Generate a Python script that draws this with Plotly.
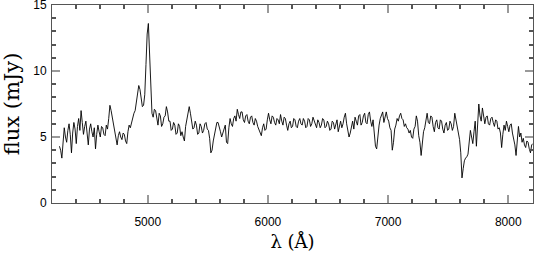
import plotly.graph_objects as go

wave_start = 4265
wave_step = 10

flux_4265 = [4.3, 4.0, 3.4, 4.9, 5.7, 5.0, 4.6, 5.5, 6.0, 5.2, 3.8, 5.3, 6.1, 5.6, 4.5, 5.8, 6.4, 5.5, 7.0, 6.1,
             5.2, 5.8, 6.2, 5.3, 4.4, 5.6, 6.0, 5.4, 5.0, 5.7, 4.1, 5.2, 5.9, 5.4, 5.0, 5.8, 5.7, 5.2, 5.1, 5.9]
flux_4665 = [5.6, 6.4, 7.4, 7.0, 6.5, 5.9, 5.4, 4.9, 4.4, 5.1, 5.4, 5.0, 4.8, 5.3, 5.2, 4.7, 4.5, 5.4, 5.9, 5.7,
             6.1, 6.5, 6.8, 7.0, 7.6, 8.3, 8.9, 8.6, 7.7, 7.3, 7.4, 8.2, 10.5, 12.8, 13.6, 11.5, 8.5, 6.8, 6.5, 7.1]
flux_5065 = [7.0, 6.2, 5.9, 6.8, 6.6, 5.8, 6.0, 6.5, 6.6, 7.3, 6.9, 6.2, 6.2, 5.5, 5.6, 6.1, 5.9, 5.2, 5.3, 6.0,
             5.8, 5.1, 5.4, 5.0, 4.7, 5.8, 6.4, 6.9, 7.3, 6.8, 6.3, 5.6, 5.7, 6.2, 5.9, 5.2, 5.3, 6.0, 5.8, 5.3]
flux_5465 = [5.5, 6.0, 6.1, 5.6, 5.5, 4.9, 3.8, 4.0, 4.7, 5.2, 5.6, 6.1, 6.1, 5.6, 5.4, 5.0, 5.3, 5.7, 5.9, 4.6,
             4.5, 5.7, 6.4, 6.0, 5.8, 6.4, 6.6, 6.2, 7.1, 6.7, 6.4, 6.9, 6.9, 6.3, 6.1, 6.6, 6.7, 6.2, 6.0, 6.5]
flux_5865 = [6.6, 6.1, 5.9, 6.4, 6.2, 5.8, 5.6, 5.3, 5.1, 5.7, 6.0, 5.5, 5.6, 6.3, 6.8, 6.3, 6.0, 6.6, 6.5, 6.1,
             5.9, 6.4, 6.3, 6.0, 6.7, 6.2, 5.9, 6.5, 6.4, 5.9, 5.5, 6.0, 6.2, 5.7, 5.8, 6.4, 6.3, 5.8, 5.7, 6.2]
flux_6265 = [6.4, 6.0, 5.9, 6.4, 6.2, 5.7, 5.8, 6.4, 6.3, 5.8, 6.0, 6.5, 6.2, 5.9, 5.7, 6.3, 6.1, 5.7, 5.9, 6.4,
             6.3, 5.7, 5.8, 6.2, 6.0, 5.5, 5.6, 6.2, 6.1, 5.6, 5.9, 6.3, 5.4, 5.8, 6.2, 5.7, 6.0, 6.5, 6.8, 6.0]
flux_6665 = [5.5, 5.0, 5.3, 5.8, 6.2, 5.6, 6.5, 6.2, 5.9, 6.6, 6.7, 5.9, 6.1, 6.6, 6.8, 6.1, 6.0, 6.7, 6.9, 6.2,
             5.8, 6.3, 5.3, 4.3, 4.1, 5.2, 5.9, 6.4, 6.6, 6.9, 6.1, 6.5, 6.9, 6.4, 6.2, 5.7, 5.5, 4.0, 4.6, 5.6]
flux_7065 = [5.9, 6.4, 6.2, 6.6, 6.8, 6.4, 6.3, 5.8, 6.0, 5.7, 5.6, 5.3, 5.5, 5.0, 4.9, 5.6, 5.8, 6.6, 6.2, 5.1,
             4.6, 3.6, 4.4, 5.4, 5.7, 6.4, 6.8, 6.1, 6.0, 6.6, 6.5, 5.8, 5.4, 6.1, 6.3, 5.7, 5.6, 6.3, 6.2, 5.6]
flux_7465 = [5.3, 5.9, 6.1, 5.5, 5.6, 6.2, 6.0, 5.5, 5.8, 6.8, 6.3, 5.8, 5.6, 4.8, 3.8, 1.9, 2.6, 3.2, 3.4, 3.5,
             3.7, 4.5, 5.5, 5.0, 4.5, 5.4, 6.2, 4.3, 6.4, 7.5, 6.6, 6.2, 7.2, 6.5, 6.0, 6.5, 6.6, 6.0, 5.9, 6.4]
flux_7865 = [6.5, 6.1, 5.8, 6.3, 6.2, 5.6, 5.7, 5.3, 4.2, 5.2, 5.9, 5.5, 6.2, 5.8, 5.4, 5.9, 6.0, 5.3, 4.9, 4.4,
             3.6, 4.8, 5.8, 5.0, 5.3, 4.6, 4.9, 4.4, 4.2, 4.7, 4.6, 4.1, 3.8, 4.4, 4.5]

flux = (flux_4265 + flux_4665 + flux_5065 + flux_5465 + flux_5865
        + flux_6265 + flux_6665 + flux_7065 + flux_7465 + flux_7865)
wavelength = [wave_start + wave_step * k for k in range(len(flux))]

x_range = [4203, 8206]
y_range = [0, 15]
x_title = "λ (Å)"
y_title = "flux (mJy)"

fig = go.Figure()
fig.add_trace(go.Scatter(x=wavelength, y=flux, mode="lines",
                         line=dict(color="black", width=0.9), showlegend=False))

tickfont = dict(family="Liberation Sans, Arial, sans-serif", size=12, color="black")
common = dict(showline=True, linecolor="#555", linewidth=1, mirror="ticks",
              ticks="inside", tickcolor="#999", tickwidth=1.5, ticklen=8,
              showgrid=False, zeroline=False, tickfont=tickfont,
              automargin=False, ticklabeloverflow="allow")

fig.update_xaxes(range=x_range, dtick=1000, tick0=0,
                 minor=dict(ticks="inside", ticklen=4, dtick=200, tick0=0, tickcolor="#555", showgrid=False),
                 title=dict(text=x_title, font=dict(family="DejaVu Serif", size=18, color="black"), standoff=6),
                 ticklabelstandoff=8, **common)
fig.update_yaxes(range=y_range, dtick=5, tick0=0,
                 minor=dict(ticks="inside", ticklen=4, dtick=1, tick0=0, tickcolor="#555", showgrid=False),
                 title=dict(text=y_title, font=dict(family="DejaVu Serif", size=21, color="black"), standoff=9),
                 ticklabelstandoff=2, **common)

fig.update_layout(width=534, height=256, margin=dict(l=52, r=1, t=5, b=53, autoexpand=False),
                  plot_bgcolor="white", paper_bgcolor="white")

fig.write_html("out.html", config={"displayModeBar": False},
               post_script="document.body.style.margin='0';document.body.style.padding='0';")
